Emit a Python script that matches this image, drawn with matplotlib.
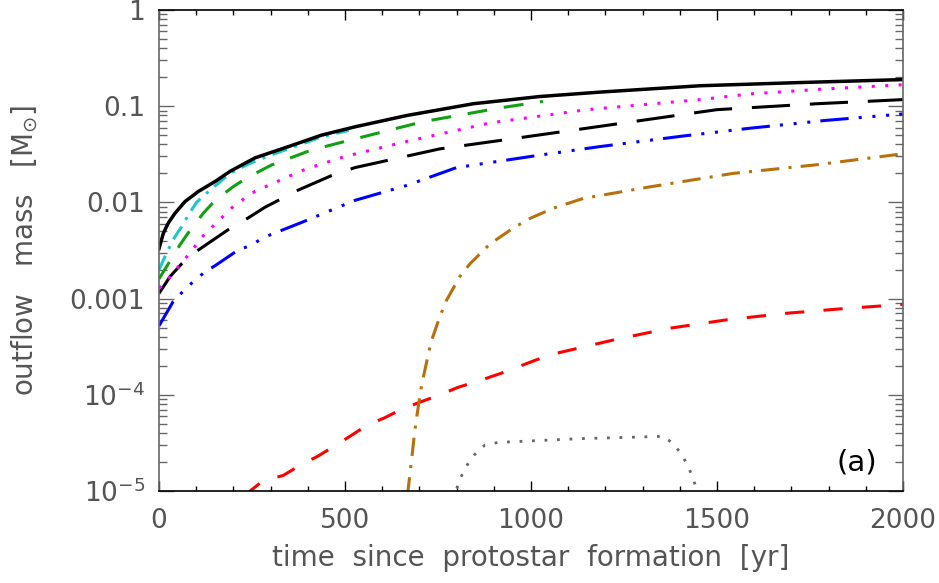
"""
Outflow mass vs. time since protostar formation, panel (a)
"""

import matplotlib
matplotlib.use('Agg')
import matplotlib.pyplot as plt
from matplotlib.ticker import FixedLocator, FixedFormatter, MultipleLocator, LogLocator, NullFormatter

# values (time in yr, mass in Msun)
t_total = [0, 12, 25, 43, 70, 106, 151, 191, 258, 348, 437, 527, 666, 845, 1024, 1185, 1454, 1723, 2000]
m_total = [0.0033, 0.0048, 0.0061, 0.0077, 0.0102, 0.0130, 0.0165, 0.021, 0.029, 0.038, 0.050,
           0.061, 0.080, 0.106, 0.126, 0.14, 0.163, 0.176, 0.189]

t_cyan = [0, 21, 38, 61, 79, 101, 133, 191, 240, 300, 348, 437, 510]
m_cyan = [0.0020, 0.0030, 0.0041, 0.0056, 0.0074, 0.0100, 0.013, 0.020, 0.025, 0.031, 0.036,
          0.048, 0.056]

t_green = [0, 25, 56, 83, 119, 151, 200, 236, 303, 410, 510, 710, 917, 1032]
m_green = [0.0016, 0.0023, 0.0036, 0.0051, 0.0077, 0.0105, 0.0146, 0.018, 0.0245, 0.035, 0.044,
           0.069, 0.096, 0.112]

t_magenta = [0, 25, 50, 74, 97, 119, 146, 173, 200, 230, 258, 294, 392, 500, 666, 890, 1150,
             1454, 1589, 1790, 2000]
m_magenta = [0.00128, 0.0016, 0.0021, 0.0027, 0.0035, 0.0045, 0.0057, 0.0072, 0.0091, 0.011,
             0.013, 0.015, 0.022, 0.030, 0.043, 0.067, 0.092, 0.117, 0.134, 0.151, 0.167]

t_longdash = [0, 30, 61, 106, 186, 240, 285, 374, 464, 527, 755, 935, 1150, 1500, 1768, 2000]
m_longdash = [0.00113, 0.0017, 0.0023, 0.0032, 0.0052, 0.0069, 0.0089, 0.0134, 0.019, 0.023,
              0.036, 0.045, 0.059, 0.092, 0.106, 0.117]

t_blue = [0, 38, 61, 92, 124, 151, 213, 249, 280, 384, 527, 666, 800, 1024, 1185, 1410, 1589,
          1790, 2000]
m_blue = [0.00052, 0.00093, 0.00115, 0.0015, 0.0019, 0.0022, 0.0032, 0.0036, 0.0043, 0.0062,
          0.0105, 0.015, 0.023, 0.031, 0.038, 0.049, 0.059, 0.071, 0.083]

t_orange = [668, 679, 688, 697, 706, 731, 755, 773, 809, 836, 890, 952, 997, 1060, 1141,
            1320, 1543, 1768, 2000]
m_orange = [9e-6, 2.1e-5, 4.3e-5, 7.5e-5, 1.26e-4, 3.5e-4, 6.5e-4, 9.6e-4, 0.0017, 0.0023,
            0.0037, 0.0054, 0.0068, 0.0087, 0.011, 0.0145, 0.020, 0.0246, 0.032]

t_red = [230, 245, 280, 334, 379, 427, 473, 518, 558, 608, 656, 706, 755, 805, 854, 917, 1050,
         1220, 1370, 1524, 1680, 1828, 2000]
m_red = [9e-6, 1.0e-5, 1.28e-5, 1.45e-5, 1.85e-5, 2.3e-5, 2.95e-5, 3.8e-5, 4.8e-5, 5.8e-5,
         7.2e-5, 8.5e-5, 1.0e-4, 1.2e-4, 1.37e-4, 1.66e-4, 2.6e-4, 3.7e-4, 4.9e-4, 6.0e-4,
         7.0e-4, 7.8e-4, 8.7e-4]

t_grey = [790, 798, 811, 828, 849, 876, 912, 1132, 1356, 1383, 1405, 1423, 1437, 1447, 1455]
m_grey = [8e-6, 1.0e-5, 1.38e-5, 1.85e-5, 2.4e-5, 3.0e-5, 3.2e-5, 3.5e-5, 3.7e-5, 3.1e-5,
          2.4e-5, 1.8e-5, 1.3e-5, 1.0e-5, 8e-6]

ytick_vals = [1e-5, 1e-4, 1e-3, 1e-2, 1e-1, 1]
ytick_labels = [r'$10^{-5}$', r'$10^{-4}$', '0.001', '0.01', '0.1', '1']
xtick_vals = [0, 500, 1000, 1500, 2000]

grey_txt = '#555555'

fig = plt.figure(figsize=(9.39, 5.83), dpi=100)
ax = fig.add_axes([0.1693, 0.1578, 0.7923, 0.8251])

lw = 2.2
ax.plot(t_red, m_red, color='#ff0000', lw=lw, ls=(0, (6.3, 6.3)))
ax.plot(t_grey, m_grey, color='#666666', lw=2.0, ls=(0, (1, 3.5)))
ax.plot(t_orange, m_orange, color='#b8700c', lw=lw, ls=(0, (6, 3, 1, 3)))
ax.plot(t_blue, m_blue, color='#0000ff', lw=lw, ls=(0, (9.3, 3.3, 1, 3.5, 1, 3.5, 1, 3.3)))
ax.plot(t_longdash, m_longdash, color='black', lw=lw, ls=(0, (12.5, 6.5)))
ax.plot(t_magenta, m_magenta, color='#ff00ff', lw=lw, ls=(0, (1, 3.4)))
ax.plot(t_green, m_green, color='#10a010', lw=lw, ls=(0, (6.5, 5.5)))
ax.plot(t_cyan, m_cyan, color='#1cc8c8', lw=lw, ls=(0, (5, 2.5, 1, 2.5)))
ax.plot(t_total, m_total, color='black', lw=2.5, ls='-')

ax.set_yscale('log')
ax.set_xlim(0, 2000)
ax.set_ylim(1e-5, 1.0)

ax.yaxis.set_major_locator(FixedLocator(ytick_vals))
ax.yaxis.set_major_formatter(FixedFormatter(ytick_labels))
ax.yaxis.set_minor_locator(LogLocator(base=10, subs=range(2, 10)))
ax.yaxis.set_minor_formatter(NullFormatter())
ax.xaxis.set_major_locator(FixedLocator(xtick_vals))
ax.xaxis.set_minor_locator(MultipleLocator(100))

ax.tick_params(axis='y', which='major', direction='in', length=11, width=1.0,
               color='#666666', left=True, right=True, labelsize=19, labelcolor=grey_txt, pad=10)
ax.tick_params(axis='y', which='minor', direction='in', length=5.5, width=1.0,
               color='#666666', left=True, right=True)
ax.tick_params(axis='x', which='major', direction='in', length=7.5, width=1.0,
               color='black', bottom=True, top=True, labelsize=19, labelcolor=grey_txt, pad=12)
ax.tick_params(axis='x', which='minor', direction='in', length=3.8, width=1.0,
               color='black', bottom=True, top=True)

for side in ['left', 'right']:
    ax.spines[side].set_color('#666666')
    ax.spines[side].set_linewidth(1.2)
for side in ['top', 'bottom']:
    ax.spines[side].set_color('black')
    ax.spines[side].set_linewidth(1.2)

ax.set_xlabel('time  since  protostar  formation  [yr]', fontsize=20, color=grey_txt)
ax.set_ylabel(r'outflow   mass   $[\mathrm{M}_{\odot}]$', fontsize=20, color=grey_txt)
ax.xaxis.set_label_coords(0.5, -0.11)
ax.yaxis.set_label_coords(-0.16, 0.5)

ax.text(0.965, 0.06, '(a)', transform=ax.transAxes, fontsize=21, color='black',
        ha='right', va='center')

fig.savefig('out.png', dpi=100)
